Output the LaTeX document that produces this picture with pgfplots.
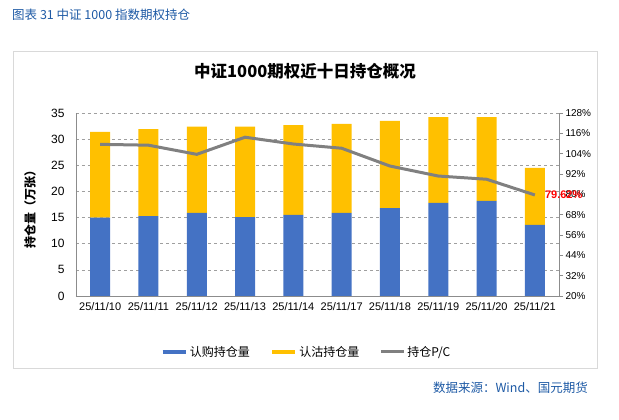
\documentclass[border=0pt]{standalone}
\usepackage{fontspec}
\setmainfont{Liberation Sans}
\newfontfamily\cjk{Noto Sans CJK SC}
\usepackage{pgfplots}
\pgfplotsset{compat=1.18}
\definecolor{callc}{HTML}{4472C4}
\definecolor{putc}{HTML}{FFC000}
\definecolor{pcc}{HTML}{808080}
\definecolor{hdr}{RGB}{30,90,165}
\definecolor{framec}{HTML}{D9D9D9}
\definecolor{axc}{HTML}{8C8C8C}
\begin{document}
\begin{tikzpicture}
\path[use as bounding box] (0pt,0pt) rectangle (619pt,420pt);
\draw[framec, line width=1pt] (13pt,51pt) rectangle (597pt,368pt);
\node[anchor=west, inner sep=0, text=hdr, font=\cjk\fontsize{12.5}{14}\selectfont] at (12pt,405pt) {图表 31 中证 1000 指数期权持仓};
\node[font=\cjk\bfseries\fontsize{16.5}{18}\selectfont] at (305pt,349pt) {中证1000期权近十日持仓概况};
\node[anchor=east, inner sep=0, text=hdr, font=\cjk\fontsize{12.5}{14}\selectfont] at (588pt,32pt) {数据来源：Wind、国元期货};
\node[rotate=90, font=\cjk\bfseries\fontsize{12}{14}\selectfont] at (30pt,213pt) {持仓量（万张）};

\begin{axis}[
  at={(76pt,124pt)}, anchor=south west, scale only axis,
  width=483pt, height=183pt,
  ybar stacked, bar width=20pt,
  xmin=-0.5, xmax=9.5, ymin=0, ymax=35,
  xtick={0,...,9},
  xticklabels={25/11/10,25/11/11,25/11/12,25/11/13,25/11/14,25/11/17,25/11/18,25/11/19,25/11/20,25/11/21},
  ytick={0,5,...,35},
  axis x line*=bottom, axis y line*=left,
  axis line style={axc, line width=0.8pt},
  ymajorgrids, grid style={dashed, gray!75, line width=0.6pt},
  xtick style={draw=none}, ytick style={draw=none},
  /pgf/number format/assume math mode=true,
  yticklabel style={font=\fontsize{12}{14}\selectfont, xshift=-8pt},
  xticklabel style={font=\fontsize{11}{13}\selectfont, yshift=-3pt},
]
\addplot[fill=callc, draw=none] coordinates {(0,15.0) (1,15.3) (2,15.9) (3,15.1) (4,15.5) (5,15.9) (6,16.8) (7,17.8) (8,18.2) (9,13.6)};
\addplot[fill=putc, draw=none] coordinates {(0,16.4) (1,16.6) (2,16.5) (3,17.3) (4,17.2) (5,17.0) (6,16.7) (7,16.4) (8,16.0) (9,10.9)};
\end{axis}

\begin{axis}[
  at={(76pt,124pt)}, anchor=south west, scale only axis,
  width=483pt, height=183pt,
  xmin=-0.5, xmax=9.5, ymin=20, ymax=128,
  ytick={20,32,...,128},
  axis x line=none, axis y line*=right,
  axis line style={axc, line width=0.8pt},
  ytick style={axc, line width=0.8pt},
  tick align=outside, major tick length=4pt,
  clip=false,
  /pgf/number format/assume math mode=true,
  yticklabel={\pgfmathprintnumber{\tick}\%},
  yticklabel style={font=\fontsize{10}{12}\selectfont, xshift=-1pt},
  legend style={at={(0.477,-0.306)}, anchor=center, draw=none, fill=none,
    legend columns=3, font=\cjk\fontsize{12}{14}\selectfont,
    /tikz/every even column/.append style={column sep=18pt}},
  legend image code/.code={\draw[#1] (0pt,0pt) -- (23pt,0pt);},
]
\addlegendimage{callc, line width=4.5pt}
\addlegendentry{认购持仓量}
\addlegendimage{putc, line width=4.5pt}
\addlegendentry{认沽持仓量}
\addplot[pcc, line width=3pt, no markers] coordinates {(0,109.5) (1,109.0) (2,103.6) (3,113.7) (4,109.7) (5,107.2) (6,96.7) (7,90.8) (8,88.9) (9,79.62)};
\addlegendentry{持仓P/C}
\node[anchor=west, inner sep=0, text=red, font=\bfseries\fontsize{11}{13}\selectfont, xshift=10pt] at (axis cs:9,79.62) {79.62\%};
\end{axis}
\end{tikzpicture}
\end{document}
